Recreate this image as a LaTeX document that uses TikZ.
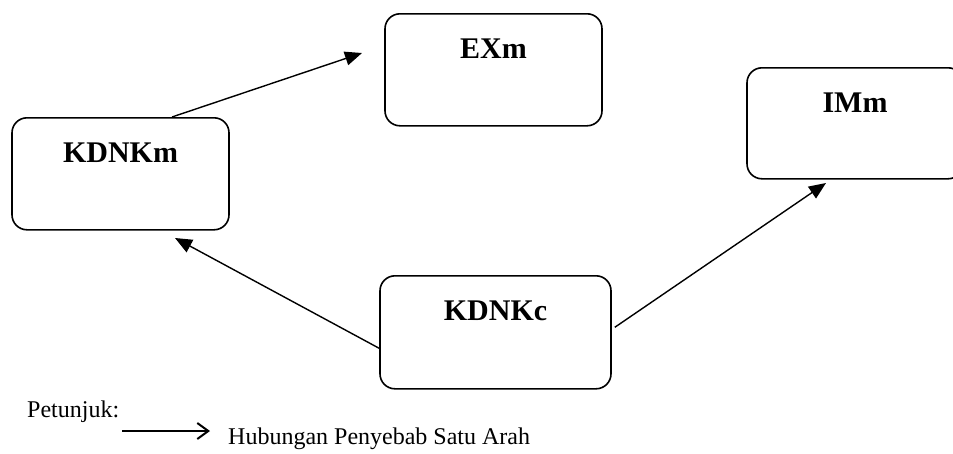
\documentclass[tikz,border=0pt]{standalone}
\usepackage{fontspec}
\setmainfont{Liberation Serif}
\usetikzlibrary{arrows.meta, positioning}

\begin{document}
\begin{tikzpicture}[
        x=1pt, y=-1pt,
        var/.style={rectangle, rounded corners=15pt, draw, line width=1.6pt, inner sep=0pt, anchor=north, minimum width=217pt, text height=45pt, text depth=67pt, font=\fontsize{30}{36}\selectfont\bfseries},
        cause/.style={line width=1.4pt, -{Triangle[length=17pt, width=14pt]}},
        legarrow/.style={line width=2pt, -{Straight Barb[length=11pt, width=16pt]}},
        legtext/.style={inner sep=0pt, font=\fontsize{24}{28}\selectfont}
    ]
        \useasboundingbox (0,0) rectangle (953,453);

        % Variables
        \node[var] (exm) at (493.5,13) {EXm};
        \node[var] (kdnkm) at (120.5,117) {KDNKm};
        \node[var, minimum width=216pt, text depth=66pt] (imm) at (855,67) {IMm};
        \node[var, minimum width=231pt, text depth=68pt] (kdnkc) at (495.5,275) {KDNKc};

        % Free arrow ends
        \coordinate (exmin) at (362,53);
        \coordinate (kdnkmin) at (175,238);
        \coordinate (immin) at (826,183);

        % Causal links
        \draw[cause] ([xshift=51.5pt]kdnkm.north) -- (exmin);
        \draw[cause] ([yshift=-16pt]kdnkc.west) -- (kdnkmin);
        \draw[cause] ([xshift=3pt, yshift=5pt]kdnkc.east) -- (immin);

        % Legend
        \node[legtext, anchor=base west] (petunjuk) at (27,417) {Petunjuk:};
        \coordinate (legA) at (122,431);
        \coordinate (legB) at (210,431);
        \draw[legarrow] (legA) -- (legB);
        \node[legtext, right=18pt of legB, anchor=base west, yshift=-13pt] (legdesc) {Hubungan Penyebab Satu Arah};
    \end{tikzpicture}
\end{document}
